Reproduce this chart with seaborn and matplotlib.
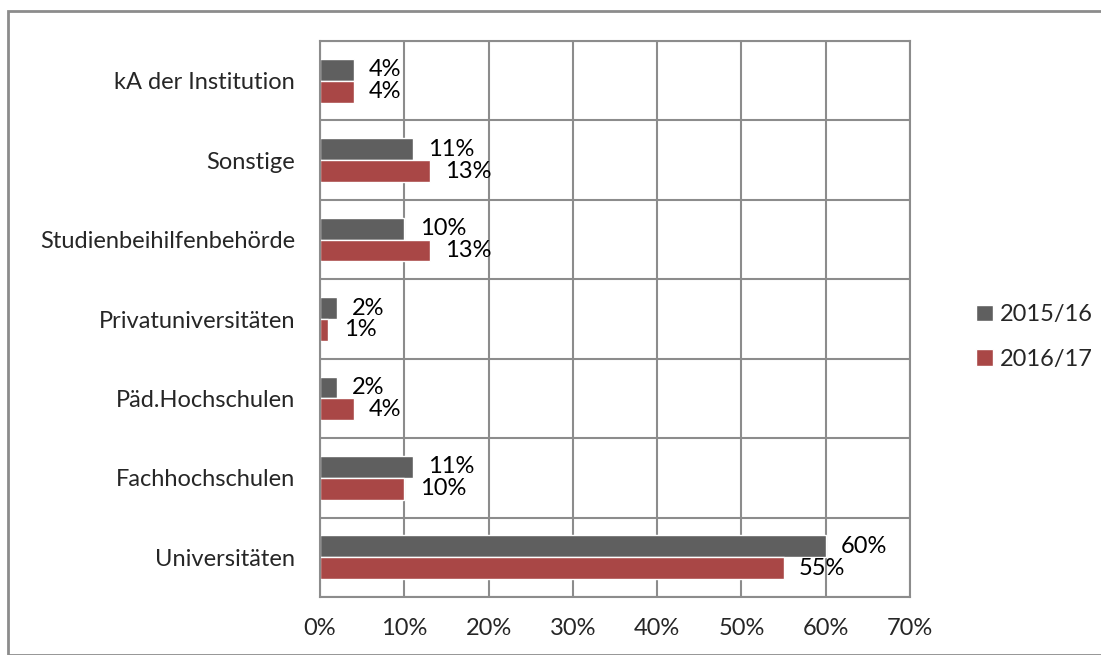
"""
Recreate the horizontal grouped bar chart of applications by institution.
"""

import matplotlib.pyplot as plt
import pandas as pd
import seaborn as sns
from matplotlib.patches import Rectangle
from matplotlib.ticker import MultipleLocator, PercentFormatter

categories = [
    "kA der Institution",
    "Sonstige",
    "Studienbeihilfenbehörde",
    "Privatuniversitäten",
    "Päd.Hochschulen",
    "Fachhochschulen",
    "Universitäten",
]
years = ["2015/16", "2016/17"]
share_2015 = [0.04, 0.11, 0.10, 0.02, 0.02, 0.11, 0.60]
share_2016 = [0.04, 0.13, 0.13, 0.01, 0.04, 0.10, 0.55]

colors = ["#5f5f5f", "#a94746"]
grid_color = "#8c8c8c"
FONT_SIZE = 17


def build_frame() -> pd.DataFrame:
    """Long-form table for seaborn."""
    return pd.DataFrame(
        {
            "category": categories * 2,
            "year": [years[0]] * len(categories) + [years[1]] * len(categories),
            "share": share_2015 + share_2016,
        }
    )


def main():
    sns.set_style("white")
    plt.rcParams["font.family"] = ["Lato", "DejaVu Sans"]

    df = build_frame()

    fig = plt.figure(figsize=(11.01, 6.55), dpi=100)
    ax = fig.add_axes([320 / 1101, 1 - 597 / 655, 590 / 1101, 556 / 655])

    sns.barplot(
        data=df,
        x="share",
        y="category",
        hue="year",
        hue_order=years,
        order=categories,
        palette=colors,
        width=0.55,
        orient="h",
        saturation=1,
        ax=ax,
    )

    for container in ax.containers:
        ax.bar_label(
            container,
            fmt=lambda v: f"{v:.0%}",
            padding=11,
            fontsize=FONT_SIZE,
            color="black",
        )

    ax.set_xlim(0, 0.7)
    ax.set_ylim(len(categories) - 0.5, -0.5)
    ax.xaxis.set_major_locator(MultipleLocator(0.1))
    ax.xaxis.set_major_formatter(PercentFormatter(1.0, decimals=0))

    # category boundaries as minor ticks / grid
    ax.set_yticks([i - 0.5 for i in range(len(categories) + 1)], minor=True)
    ax.grid(axis="x", which="major", color=grid_color, linewidth=1.5)
    ax.grid(axis="y", which="minor", color=grid_color, linewidth=1.5)
    ax.grid(axis="y", which="major", visible=False)
    ax.set_axisbelow(True)

    ax.tick_params(axis="y", which="major", length=0, pad=18,
                   labelsize=FONT_SIZE)
    ax.tick_params(axis="y", which="minor", length=5, width=1.5,
                   color=grid_color, direction="out")
    ax.tick_params(axis="x", which="major", length=5, width=1.5,
                   color=grid_color, direction="out", pad=10,
                   labelsize=FONT_SIZE)

    for spine in ax.spines.values():
        spine.set_color(grid_color)
        spine.set_linewidth(1.5)

    ax.set_xlabel("")
    ax.set_ylabel("")

    ax.legend(
        loc="center left",
        bbox_to_anchor=(955 / 1101, 1 - 337 / 655),
        bbox_transform=fig.transFigure,
        frameon=False,
        fontsize=FONT_SIZE,
        handlelength=0.7,
        handleheight=0.7,
        handletextpad=0.3,
        labelspacing=1.0,
    )

    fig.patches.append(
        Rectangle(
            (8 / 1101, 0),
            1.1,
            1 - 11 / 655,
            transform=fig.transFigure,
            fill=False,
            edgecolor="#8c8c8c",
            linewidth=2,
        )
    )

    fig.savefig("out.png", dpi=100)


if __name__ == "__main__":
    main()
